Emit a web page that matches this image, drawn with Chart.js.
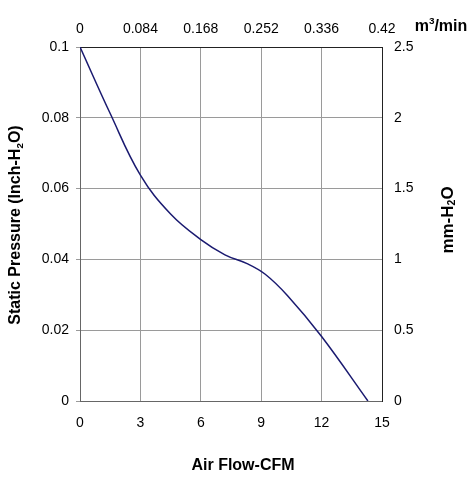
<!DOCTYPE html>
<html lang="en">
  <head>
    <meta charset="utf-8" />
    <title>Fan curve</title>
    <style>
      * {
        margin: 0;
        padding: 0;
      }
      body {
        background: white;
      }
      .chartBox {
        width: 473px;
        height: 480px;
      }
    </style>
  </head>
  <body>
    <div class="chartBox">
      <canvas id="myChart"></canvas>
    </div>

    <script src="https://cdn.jsdelivr.net/npm/chart.js"></script>

    <script>
      // data block
      const airFlow = [0, 1.5, 3, 4.5, 6, 7.2, 8.3, 9.2, 10.3, 12, 14.3];
      const pressure = [0.1, 0.0812, 0.0638, 0.0528, 0.0456, 0.0413, 0.0388, 0.0358, 0.0298, 0.0182, 0];

      const cfmTicks = [0, 3, 6, 9, 12, 15];
      const m3Ticks = [0, 0.084, 0.168, 0.252, 0.336, 0.42];
      const inchTicks = [0, 0.02, 0.04, 0.06, 0.08, 0.1];
      const mmTicks = [0, 0.5, 1, 1.5, 2, 2.5];

      const FAM = "'Liberation Sans', Arial, sans-serif";
      const tickFont = { family: FAM, size: 14 };
      const setTicks = (arr) => (scale) => {
        scale.ticks = arr.map((v) => ({ value: v }));
      };
      const fmt = (v) => String(v);

      // draws text made of parts, some of them sub/superscript, centred on (0,0)
      const drawParts = (ctx, parts, size) => {
        const widths = parts.map((p) => {
          ctx.font = "bold " + (p.small ? size * 0.62 : size) + "px " + FAM;
          return ctx.measureText(p.t).width;
        });
        let x = -widths.reduce((a, b) => a + b, 0) / 2;
        parts.forEach((p, i) => {
          ctx.font = "bold " + (p.small ? size * 0.62 : size) + "px " + FAM;
          ctx.fillText(p.t, x, p.dy || 0);
          x += widths[i];
        });
      };

      // titles block
      const titles = {
        id: "titles",
        afterDraw(chart) {
          const { ctx } = chart;
          ctx.save();
          ctx.fillStyle = "#000";
          ctx.textAlign = "left";
          ctx.textBaseline = "middle";

          ctx.save();
          ctx.translate(243, 466);
          drawParts(ctx, [{ t: "Air Flow-CFM" }], 16);
          ctx.restore();

          ctx.save();
          ctx.translate(441, 27);
          drawParts(ctx, [{ t: "m" }, { t: "3", small: true, dy: -6 }, { t: "/min" }], 16);
          ctx.restore();

          ctx.save();
          ctx.translate(16, 225);
          ctx.rotate(-Math.PI / 2);
          drawParts(ctx, [{ t: "Static Pressure (Inch-H" }, { t: "2", small: true, dy: 4 }, { t: "O)" }], 16);
          ctx.restore();

          ctx.save();
          ctx.translate(448, 220);
          ctx.rotate(-Math.PI / 2);
          drawParts(ctx, [{ t: "mm-H" }, { t: "2", small: true, dy: 4 }, { t: "O" }], 17);
          ctx.restore();
          ctx.restore();
        },
      };

      // config block
      const config = {
        type: "line",
        data: {
          datasets: [
            {
              data: airFlow.map((x, i) => ({ x: x, y: pressure[i] })),
              borderColor: "#1a1a70",
              borderWidth: 1.5,
              pointRadius: 0,
              tension: 0.4,
              fill: false,
            },
          ],
        },
        options: {
          responsive: true,
          maintainAspectRatio: false,
          animation: false,
          layout: { padding: 0 },
          plugins: {
            legend: { display: false },
            tooltip: { enabled: false },
          },
          scales: {
            x: {
              type: "linear",
              position: "bottom",
              min: 0,
              max: 15,
              afterBuildTicks: setTicks(cfmTicks),
              afterFit: (s) => { s.height = 79; },
              grid: { color: "#9a9a9a", drawTicks: false },
              border: { color: "#666" },
              ticks: { color: "#000", font: tickFont, padding: 14, callback: fmt, maxRotation: 0 },
            },
            x2: {
              type: "linear",
              position: "top",
              min: 0,
              max: 0.42,
              afterBuildTicks: setTicks(m3Ticks),
              afterFit: (s) => { s.height = 47; },
              grid: { display: false, drawTicks: false },
              border: { color: "#222" },
              ticks: { color: "#000", font: tickFont, padding: 9, callback: fmt, maxRotation: 0 },
            },
            y: {
              type: "linear",
              position: "left",
              min: 0,
              max: 0.1,
              afterBuildTicks: setTicks(inchTicks),
              afterFit: (s) => { s.width = 80; },
              grid: { color: "#9a9a9a", tickLength: 4 },
              border: { color: "#666" },
              ticks: { color: "#000", font: tickFont, padding: 7, callback: fmt },
            },
            y2: {
              type: "linear",
              position: "right",
              min: 0,
              max: 2.5,
              afterBuildTicks: setTicks(mmTicks),
              afterFit: (s) => { s.width = 91; },
              grid: { display: false, tickLength: 4 },
              border: { color: "#222" },
              ticks: { color: "#000", font: tickFont, padding: 8, callback: fmt },
            },
          },
        },
        plugins: [titles],
      };

      // init render block
      const ctx = document.getElementById("myChart");
      const myChart = new Chart(ctx, config);
    </script>
  </body>
</html>
